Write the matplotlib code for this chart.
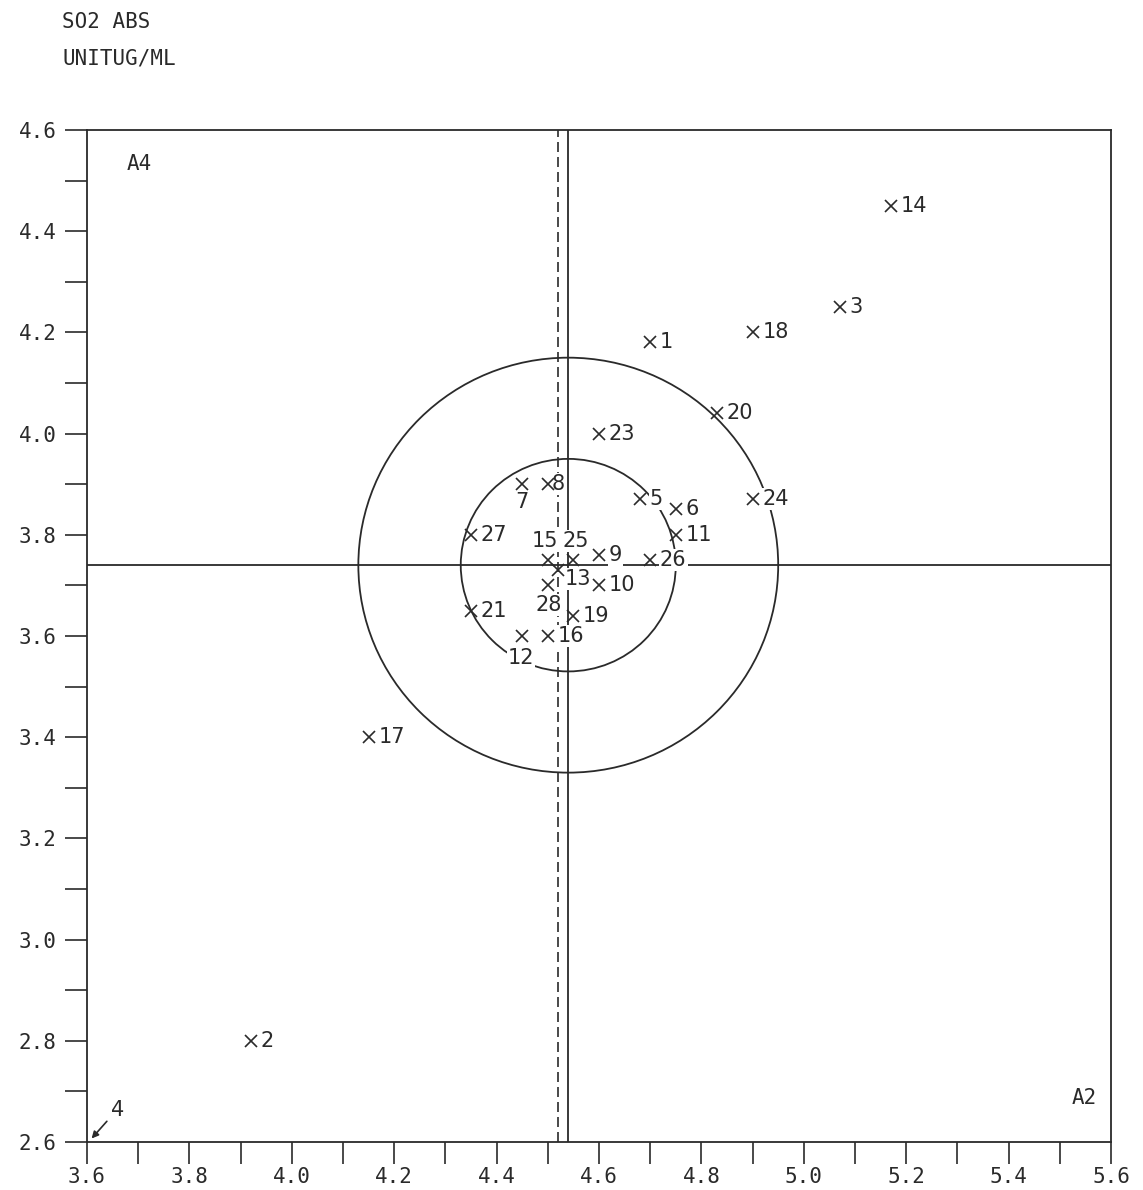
import numpy as np
import matplotlib
matplotlib.use("Agg")
import matplotlib.pyplot as plt
from matplotlib.patches import Circle
from matplotlib.ticker import MultipleLocator, FormatStrFormatter

# lab results (sample A4 vs sample A2), unit ug/ml
lab_ids = [1, 2, 3, 5, 6, 7, 8, 9, 10, 11, 12, 13, 14, 15, 16, 17, 18,
           19, 20, 21, 23, 24, 25, 26, 27, 28]
a2_vals = [4.70, 3.92, 5.07, 4.68, 4.75, 4.45, 4.50, 4.60, 4.60, 4.75, 4.45, 4.52,
           5.17, 4.50, 4.50, 4.15, 4.90, 4.55, 4.83, 4.35, 4.60, 4.90, 4.55, 4.70,
           4.35, 4.50]
a4_vals = [4.18, 2.80, 4.25, 3.87, 3.85, 3.90, 3.90, 3.76, 3.70, 3.80, 3.60, 3.73,
           4.45, 3.75, 3.60, 3.40, 4.20, 3.64, 4.04, 3.65, 4.00, 3.87, 3.75, 3.75,
           3.80, 3.70]
# lab 4 lies outside the plot range (arrow at lower-left corner)
outlier_id = 4

median_x = 4.54
median_y = 3.74
mean_x = 4.52
circle_radii = [0.21, 0.41]

fig = plt.figure(figsize=(11.43, 11.90), dpi=100)
ax = fig.add_axes([0.0761, 0.0403, 0.8959, 0.8505])
ink = "#2a2a2a"

ax.set_xlim(3.6, 5.6)
ax.set_ylim(2.6, 4.6)

# reference lines and circles
ax.axvline(median_x, color=ink, lw=1.3, zorder=1.5)
ax.axvline(mean_x, color=ink, lw=1.2, ls=(0, (6, 3)), zorder=1.5)
ax.axhline(median_y, color=ink, lw=1.3, zorder=1.5)
for r in circle_radii:
    ax.add_patch(Circle((median_x, median_y), r, fill=False, ec=ink, lw=1.3, zorder=1.5))

# points
ax.plot(a2_vals, a4_vals, ls="none", marker="x", ms=9, mew=1.2, color=ink, zorder=4)

# label placement (offset in points, alignment)
default_pos = ((7, 0), "left", "center")
special_pos = {
    7: ((0, -13), "center", "center"),
    12: ((-1, -16), "center", "center"),
    28: ((1, -14), "center", "center"),
    15: ((-2, 14), "center", "center"),
    25: ((2, 14), "center", "center"),
    13: ((5, -6), "left", "center"),
    8: ((3, 0), "left", "center"),
}
for lid, xv, yv in zip(lab_ids, a2_vals, a4_vals):
    off, ha, va = special_pos.get(lid, default_pos)
    ax.annotate(str(lid), (xv, yv), xytext=off, textcoords="offset points",
                ha=ha, va=va, fontsize=15, family="DejaVu Sans", color=ink,
                bbox=dict(boxstyle="square,pad=0.05", fc="white", ec="none"),
                zorder=3)

# outlier arrow
ax.annotate(str(outlier_id), xy=(3.609, 2.607), xytext=(3.659, 2.664),
            textcoords="data", ha="center", va="center", fontsize=15,
            family="DejaVu Sans", color=ink,
            arrowprops=dict(arrowstyle="-|>", color=ink, lw=1.2,
                            shrinkA=1, shrinkB=0, mutation_scale=10))

# quadrant sample names
ax.text(3.678, 4.533, "A4", fontsize=15, family="DejaVu Sans Mono", color=ink,
        ha="left", va="center")
ax.text(5.573, 2.687, "A2", fontsize=15, family="DejaVu Sans Mono", color=ink,
        ha="right", va="center")

# axes styling
for s in ax.spines.values():
    s.set_color(ink)
    s.set_linewidth(1.3)
ax.xaxis.set_major_locator(MultipleLocator(0.2))
ax.xaxis.set_minor_locator(MultipleLocator(0.1))
ax.yaxis.set_major_locator(MultipleLocator(0.2))
ax.yaxis.set_minor_locator(MultipleLocator(0.1))
ax.xaxis.set_major_formatter(FormatStrFormatter("%.1f"))
ax.yaxis.set_major_formatter(FormatStrFormatter("%.1f"))
ax.tick_params(which="both", direction="out", length=16, width=1.2, color=ink,
               top=False, right=False)
ax.tick_params(axis="x", pad=2, labelsize=15, labelcolor=ink)
ax.tick_params(axis="y", pad=6, labelsize=15, labelcolor=ink)
for lab in ax.get_xticklabels() + ax.get_yticklabels():
    lab.set_family("DejaVu Sans Mono")

fig.text(62 / 1143, 1 - 22 / 1190, "SO2 ABS", fontsize=15, family="DejaVu Sans Mono",
         color=ink, ha="left", va="center")
fig.text(62 / 1143, 1 - 58 / 1190, "UNITUG/ML", fontsize=15, family="DejaVu Sans Mono",
         color=ink, ha="left", va="center")

fig.savefig("out.png", dpi=100, facecolor="white")
